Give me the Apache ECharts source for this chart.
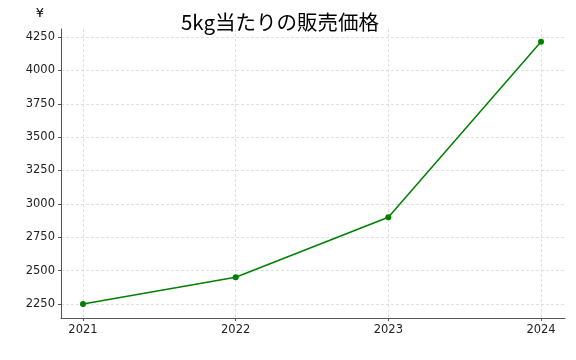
<!DOCTYPE html>
<html><head><meta charset="utf-8">
<script src="https://cdn.jsdelivr.net/npm/echarts@6/dist/echarts.min.js"></script>
<style>html,body{margin:0;padding:0;background:#fff}#c{width:576px;height:360px}</style>
</head><body><div id="c"></div>
<script>
const years = [2021, 2022, 2023, 2024];
const prices = [2250, 2450, 2900, 4215];
const yTicks = [2250, 2500, 2750, 3000, 3250, 3500, 3750, 4000, 4250];
const titleText = '5kg当たりの販売価格';
const yName = '¥';

const chart = echarts.init(document.getElementById('c'));
chart.setOption({
  animation: false,
  title: {text: titleText, left: 275, top: 7, textAlign: 'center',
    textStyle: {fontFamily: 'Noto Sans CJK JP', fontWeight: 'normal', fontSize: 20.5, color: '#000'}},
  grid: {left: 61, right: 11, top: 29, bottom: 42, containLabel: false},
  xAxis: {
    type: 'value', min: 2020.856, max: 2024.157,
    axisLine: {show: true, lineStyle: {color: '#555', width: 1}},
    axisTick: {show: true, customValues: years, length: 3, lineStyle: {color: '#555'}},
    axisLabel: {customValues: years, formatter: v => String(v), color: '#222', fontSize: 11.5, fontFamily: 'DejaVu Sans', margin: 6},
    splitLine: {show: true, lineStyle: {color: '#d8d8d8', type: [3, 2], width: 0.8}}
  },
  yAxis: {
    type: 'value', min: 2145, max: 4310,
    name: yName, nameLocation: 'end', nameGap: 0,
    nameTextStyle: {fontSize: 13, color: '#000', fontFamily: 'DejaVu Sans', align: 'center', padding: [0, 42, 9, 0], verticalAlign: 'bottom'},
    axisLine: {show: true, lineStyle: {color: '#555', width: 1}},
    axisTick: {show: true, customValues: yTicks, length: 3, lineStyle: {color: '#555'}},
    axisLabel: {customValues: yTicks, formatter: v => String(v), color: '#222', fontSize: 11.5, fontFamily: 'DejaVu Sans', margin: 6},
    splitLine: {show: true, lineStyle: {color: '#d8d8d8', type: [3, 2], width: 0.8}}
  },
  series: [{
    type: 'line', data: years.map((y, i) => [y, prices[i]]),
    lineStyle: {color: '#008000', width: 1.5}, itemStyle: {color: '#008000'},
    symbol: 'circle', symbolSize: 6, showSymbol: true
  }]
});
</script></body></html>
